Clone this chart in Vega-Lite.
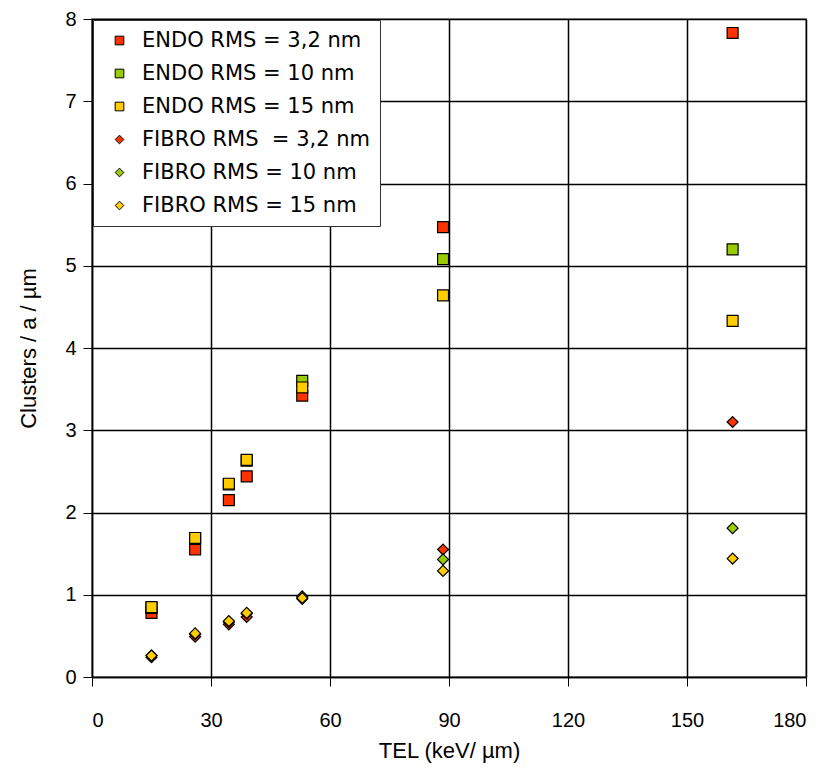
{
  "$schema": "https://vega.github.io/schema/vega-lite/v6.json",
  "width": 714,
  "height": 658,
  "autosize": {"type": "none"},
  "padding": {"left": 92, "top": 19, "right": 23, "bottom": 96},
  "background": "white",
  "config": {
    "font": "Liberation Sans",
    "view": {"stroke": "#a0a0a0", "strokeWidth": 2},
    "legend": {"strokeWidth": 1},
    "axis": {
      "gridColor": "#000000",
      "gridOpacity": 1,
      "gridWidth": 1.5,
      "domainColor": "#000000",
      "domainWidth": 1.5,
      "tickColor": "#000000",
      "tickWidth": 1,
      "tickSize": 9,
      "labelFont": "Liberation Sans",
      "labelFontSize": 20,
      "labelColor": "#000000",
      "titleFont": "Liberation Sans",
      "titleFontSize": 22,
      "titleFontWeight": "normal",
      "titleColor": "#000000"
    }
  },
  "data": {
    "values": [
      {"series": "ENDO RMS = 3,2 nm", "tel": 15, "clusters": 0.78},
      {"series": "ENDO RMS = 3,2 nm", "tel": 26, "clusters": 1.55},
      {"series": "ENDO RMS = 3,2 nm", "tel": 34.5, "clusters": 2.15},
      {"series": "ENDO RMS = 3,2 nm", "tel": 39, "clusters": 2.44},
      {"series": "ENDO RMS = 3,2 nm", "tel": 53, "clusters": 3.42},
      {"series": "ENDO RMS = 3,2 nm", "tel": 88.5, "clusters": 5.47},
      {"series": "ENDO RMS = 3,2 nm", "tel": 161.5, "clusters": 7.83},
      {"series": "ENDO RMS = 10 nm", "tel": 15, "clusters": 0.84},
      {"series": "ENDO RMS = 10 nm", "tel": 26, "clusters": 1.68},
      {"series": "ENDO RMS = 10 nm", "tel": 34.5, "clusters": 2.34},
      {"series": "ENDO RMS = 10 nm", "tel": 39, "clusters": 2.63},
      {"series": "ENDO RMS = 10 nm", "tel": 53, "clusters": 3.6},
      {"series": "ENDO RMS = 10 nm", "tel": 88.5, "clusters": 5.08},
      {"series": "ENDO RMS = 10 nm", "tel": 161.5, "clusters": 5.2},
      {"series": "ENDO RMS = 15 nm", "tel": 15, "clusters": 0.85},
      {"series": "ENDO RMS = 15 nm", "tel": 26, "clusters": 1.69},
      {"series": "ENDO RMS = 15 nm", "tel": 34.5, "clusters": 2.35},
      {"series": "ENDO RMS = 15 nm", "tel": 39, "clusters": 2.64},
      {"series": "ENDO RMS = 15 nm", "tel": 53, "clusters": 3.52},
      {"series": "ENDO RMS = 15 nm", "tel": 88.5, "clusters": 4.64},
      {"series": "ENDO RMS = 15 nm", "tel": 161.5, "clusters": 4.33},
      {"series": "FIBRO RMS \u00a0= 3,2 nm", "tel": 15, "clusters": 0.24},
      {"series": "FIBRO RMS \u00a0= 3,2 nm", "tel": 26, "clusters": 0.49},
      {"series": "FIBRO RMS \u00a0= 3,2 nm", "tel": 34.5, "clusters": 0.64},
      {"series": "FIBRO RMS \u00a0= 3,2 nm", "tel": 39, "clusters": 0.73},
      {"series": "FIBRO RMS \u00a0= 3,2 nm", "tel": 53, "clusters": 0.95},
      {"series": "FIBRO RMS \u00a0= 3,2 nm", "tel": 88.5, "clusters": 1.55},
      {"series": "FIBRO RMS \u00a0= 3,2 nm", "tel": 161.5, "clusters": 3.1},
      {"series": "FIBRO RMS = 10 nm", "tel": 15, "clusters": 0.26},
      {"series": "FIBRO RMS = 10 nm", "tel": 26, "clusters": 0.52},
      {"series": "FIBRO RMS = 10 nm", "tel": 34.5, "clusters": 0.67},
      {"series": "FIBRO RMS = 10 nm", "tel": 39, "clusters": 0.77},
      {"series": "FIBRO RMS = 10 nm", "tel": 53, "clusters": 0.98},
      {"series": "FIBRO RMS = 10 nm", "tel": 88.5, "clusters": 1.43},
      {"series": "FIBRO RMS = 10 nm", "tel": 161.5, "clusters": 1.81},
      {"series": "FIBRO RMS = 15 nm", "tel": 15, "clusters": 0.26},
      {"series": "FIBRO RMS = 15 nm", "tel": 26, "clusters": 0.53},
      {"series": "FIBRO RMS = 15 nm", "tel": 34.5, "clusters": 0.68},
      {"series": "FIBRO RMS = 15 nm", "tel": 39, "clusters": 0.78},
      {"series": "FIBRO RMS = 15 nm", "tel": 53, "clusters": 0.96},
      {"series": "FIBRO RMS = 15 nm", "tel": 88.5, "clusters": 1.29},
      {"series": "FIBRO RMS = 15 nm", "tel": 161.5, "clusters": 1.44}
    ]
  },
  "mark": {"type": "point", "filled": true, "stroke": "#000000", "strokeWidth": 1.2, "opacity": 1, "size": 120},
  "encoding": {
    "x": {
      "field": "tel", "type": "quantitative",
      "scale": {"domain": [0, 180], "nice": false, "zero": true},
      "axis": {"values": [0, 30, 60, 90, 120, 150, 180], "title": "TEL  (keV/ µm)", "labelPadding": 24, "titlePadding": 10}
    },
    "y": {
      "field": "clusters", "type": "quantitative",
      "scale": {"domain": [0, 8], "nice": false},
      "axis": {"values": [0, 1, 2, 3, 4, 5, 6, 7, 8], "title": "Clusters / a / µm", "labelPadding": 7, "titlePadding": 24}
    },
    "color": {
      "field": "series", "type": "nominal",
      "scale": {
        "domain": ["ENDO RMS = 3,2 nm", "ENDO RMS = 10 nm", "ENDO RMS = 15 nm", "FIBRO RMS \u00a0= 3,2 nm", "FIBRO RMS = 10 nm", "FIBRO RMS = 15 nm"],
        "range": ["#ff3300", "#99cc00", "#ffcc00", "#ff3300", "#99cc00", "#ffcc00"]
      },
      "legend": {
        "title": null,
        "orient": "none",
        "legendX": 1,
        "legendY": 1,
        "fillColor": "white",
        "strokeColor": "#333333",
        "padding": 10,
        "symbolOffset": 6,
        "labelFont": "DejaVu Sans",
        "labelFontSize": 21,
        "labelLimit": 400,
        "labelColor": "#000000",
        "labelOffset": 12,
        "rowPadding": 11,
        "symbolSize": 75,
        "symbolStrokeColor": "#000000",
        "symbolStrokeWidth": 1
      }
    },
    "shape": {
      "field": "series", "type": "nominal",
      "scale": {
        "domain": ["ENDO RMS = 3,2 nm", "ENDO RMS = 10 nm", "ENDO RMS = 15 nm", "FIBRO RMS \u00a0= 3,2 nm", "FIBRO RMS = 10 nm", "FIBRO RMS = 15 nm"],
        "range": ["square", "square", "square", "diamond", "diamond", "diamond"]
      },
      "legend": null
    }
  }
}
